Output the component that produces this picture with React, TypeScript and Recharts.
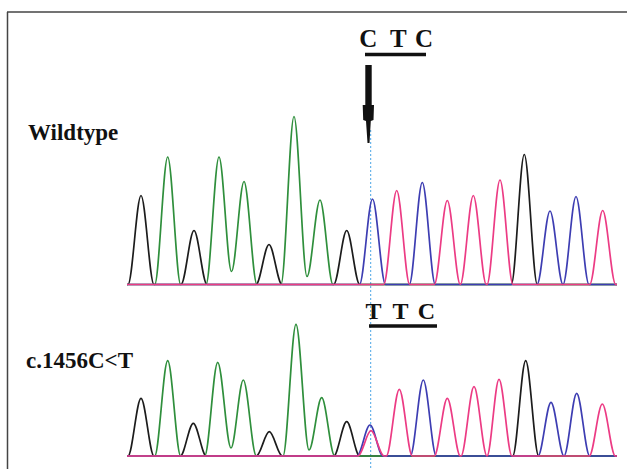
import { ComposedChart, Line, XAxis, YAxis, ReferenceLine } from "recharts";

// trace positions are in scan units along the read, amplitudes in signal units
const wtG_pos = [14, 67, 142, 219.7, 397.3];
const wtG_amp = [89, 54, 40, 54, 130];
const wtA_pos = [40.7, 92, 117, 167, 193];
const wtA_amp = [127.5, 127.5, 103, 168, 84.5];
const wtA_valleys = [[104.5, 13], [180, 8]];
const wtC_pos = [245.5, 295.3, 423, 449];
const wtC_amp = [85.5, 102, 73.5, 88];
const wtT_pos = [269.7, 320.3, 346.3, 373, 475.7];
const wtT_amp = [94, 84, 89, 104.5, 74];

const mtG_pos = [14, 66.3, 142.3, 219.7, 398.7];
const mtG_amp = [57.7, 32.7, 24.3, 34.3, 95.3];
const mtA_pos = [40.7, 90.7, 116.3, 169, 194.7];
const mtA_amp = [95.3, 93.7, 76, 131.7, 58.3];
const mtA_valleys = [[104, 8], [182, 6]];
const mtC_pos = [243, 296.3, 424, 449.7];
const mtC_amp = [31, 76, 53.7, 62.7];
const mtT_pos = [244, 272.3, 320.3, 347, 372, 475.3];
const mtT_amp = [25.3, 66.7, 57.7, 69.3, 76.7, 52];

const wtCodon = ["C", "T", "C"];
const mtCodon = ["T", "T", "C"];
const mutationPos = 243.7;

const READ_END = 490;
const HALF = 13;

function buildTrace(pos: number[], amp: number[], valleys: number[][] = []) {
  const pts: { x: number; y: number }[] = [{ x: 0, y: 0 }];
  pos.forEach((p, i) => {
    const prev = i > 0 ? pos[i - 1] : -Infinity;
    const v = valleys.find(([vx]) => vx > prev && vx < p);
    if (v) {
      pts.pop();
      pts.push({ x: v[0], y: v[1] });
    } else if (p - HALF > pts[pts.length - 1].x) {
      pts.push({ x: p - HALF, y: 0 });
    }
    pts.push({ x: p, y: amp[i] });
    pts.push({ x: p + HALF, y: 0 });
  });
  pts.push({ x: READ_END, y: 0 });
  return pts;
}

const COLORS = { G: "#1c1c1c", A: "#2f8f3c", C: "#3d3db2", T: "#ec3b84" };

const traces = [
  { id: "wt", base: "G", data: buildTrace(wtG_pos, wtG_amp) },
  { id: "wt", base: "A", data: buildTrace(wtA_pos, wtA_amp, wtA_valleys) },
  { id: "wt", base: "C", data: buildTrace(wtC_pos, wtC_amp) },
  { id: "wt", base: "T", data: buildTrace(wtT_pos, wtT_amp) },
  { id: "mt", base: "G", data: buildTrace(mtG_pos, mtG_amp) },
  { id: "mt", base: "A", data: buildTrace(mtA_pos, mtA_amp, mtA_valleys) },
  { id: "mt", base: "C", data: buildTrace(mtC_pos, mtC_amp) },
  { id: "mt", base: "T", data: buildTrace(mtT_pos, mtT_amp) },
];

const serif = "'Liberation Serif', 'Times New Roman', serif";

export default function App() {
  return (
    <div style={{ position: "fixed", left: 0, top: 0, width: 627, height: 469, background: "#fff" }}>
      <ComposedChart width={627} height={469} margin={{ top: 12, right: 10, bottom: 0, left: 127 }}>
        <XAxis dataKey="x" type="number" domain={[0, READ_END]} hide />
        {/* wildtype baseline sits at y=284.5, mutant at y=456 */}
        <YAxis yAxisId="wt" type="number" domain={[-184.5, 272.5]} hide />
        <YAxis yAxisId="mt" type="number" domain={[-13, 444]} hide />
        <ReferenceLine
          yAxisId="mt"
          segment={[{ x: mutationPos, y: 326 }, { x: mutationPos, y: -13 }]}
          stroke="#4aa6e6"
          strokeDasharray="2 2"
          strokeWidth={1}
        />
        {traces.map((t, i) => (
          <Line
            key={i}
            yAxisId={t.id}
            data={t.data}
            dataKey="y"
            type="monotone"
            stroke={COLORS[t.base as keyof typeof COLORS]}
            strokeWidth={1.7}
            dot={false}
            isAnimationActive={false}
          />
        ))}
      </ComposedChart>
      <svg width={627} height={469} style={{ position: "absolute", left: 0, top: 0, pointerEvents: "none" }}>
        <line x1={7.5} y1={12} x2={7.5} y2={469} stroke="#444" strokeWidth={1.5} />
        <line x1={7} y1={12} x2={627} y2={12} stroke="#444" strokeWidth={1.5} />
        <text x={28} y={140} fontFamily={serif} fontWeight="bold" fontSize={23} fill="#111">Wildtype</text>
        <text x={26} y={368} fontFamily={serif} fontWeight="bold" fontSize={23} fill="#111">c.1456C&lt;T</text>
        {wtCodon.map((b, i) => (
          <text key={i} x={[368.3, 398.3, 424][i]} y={47} textAnchor="middle" fontFamily={serif} fontWeight="bold" fontSize={25} fill="#111">{b}</text>
        ))}
        <line x1={365} y1={54.5} x2={426} y2={54.5} stroke="#111" strokeWidth={3.5} />
        {mtCodon.map((b, i) => (
          <text key={i} x={[373.5, 400.5, 426.5][i]} y={318.5} textAnchor="middle" fontFamily={serif} fontWeight="bold" fontSize={24} fill="#111">{b}</text>
        ))}
        <line x1={369} y1={326} x2={437} y2={326} stroke="#111" strokeWidth={3.5} />
        <path
          d="M365.3 65 L371.7 65 L371.7 105 L374 105 L373.5 120 L370.8 121 L369.5 143 L367.5 143 L366 121 L363.2 120 L362.7 105 L365.3 105 Z"
          fill="#111"
        />
      </svg>
    </div>
  );
}
